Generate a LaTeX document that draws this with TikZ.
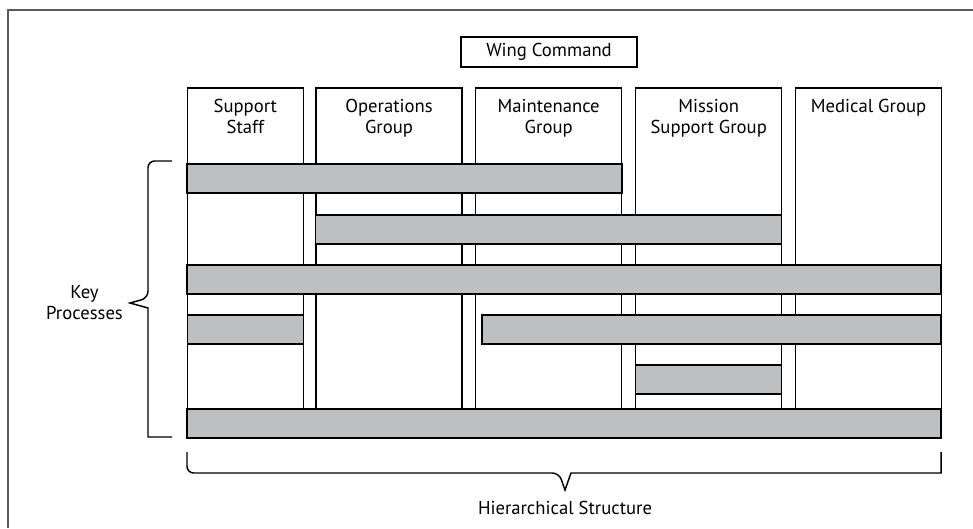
\documentclass[tikz,border=0pt]{standalone}
\usepackage{fontspec}
\setmainfont{PT Sans}

\definecolor{barfill}{RGB}{190,191,193}
\definecolor{framegray}{RGB}{90,90,90}
\tikzset{every picture/.style={line width=1.1pt}}
\tikzset{
  colbox/.style={draw, minimum height=240.75pt, minimum width=#1, inner sep=0pt},
  procbar/.style={draw, fill=barfill, minimum height=21.75pt, minimum width=#1, inner sep=0pt},
  head/.style={anchor=north, align=center, inner sep=0pt, font=\fontsize{14}{15.75}\selectfont},
  txt/.style={align=center, inner sep=0pt, font=\fontsize{14}{15.75}\selectfont},
}

\begin{document}
\begin{tikzpicture}[x=0.75pt,y=0.75pt,yscale=-1,xscale=1]
\useasboundingbox (0,0) rectangle (973,528);

%Frame
\draw [line width=0.8pt, framegray] (973,10) -- (8,10) -- (8,528) ;

% Command box
\node [draw, minimum width=132pt, minimum height=22.5pt, txt] (wing) at (549,52) {Wing Command};

% Group columns
\node [colbox=87pt] (staff) at (245.3,248.5) {};
\node [colbox=109.5pt] (ops) at (389,248.5) {};
\node [colbox=109.5pt] (mx) at (548.7,248.5) {};
\node [colbox=109.5pt] (msg) at (708.7,248.5) {};
\node [colbox=109.5pt] (med) at (868.5,248.5) {};

% Column heads
\node [head] (staff-t) at ([yshift=8.5pt]staff.north) {Support\\Staff};
\node [head] (ops-t) at ([yshift=8.5pt]ops.north) {Operations\\Group};
\node [head] (mx-t) at ([yshift=8.5pt]mx.north) {Maintenance\\Group};
\node [head] (msg-t) at ([yshift=8.5pt]msg.north) {Mission\\Support Group};
\node [head] (med-t) at ([yshift=8.5pt]med.north) {Medical Group};

% Process bars
\node [procbar=326pt] (p1) at (404.5,178.5) {};
\node [procbar=349.5pt] (p2) at (548.7,229.5) {};
\node [procbar=565.5pt] (p3) at (564.2,279.5) {};
\node [procbar=87pt] (p4a) at (245.3,329.5) {};
\node [procbar=344.25pt] (p4b) at (711.5,329.5) {};
\node [procbar=109.5pt] (p5) at (708.7,379.5) {};
\node [procbar=565.5pt] (p6) at (564.2,423.5) {};

% Brace: key processes
\draw (172,161) [rounded corners=5pt] -- (148,161) -- (148,298) [sharp corners] -- (130,303) -- (148,308) -- (148,437) [rounded corners=5pt] -- (172,437) ;
% Brace: hierarchical structure
\draw (187,452) [rounded corners=5pt] -- (187,473) -- (559,473) [sharp corners] -- (565,490) -- (571,473) -- (941,473) [rounded corners=5pt] -- (941,452) ;

% Text Node
\node [txt] (keyproc) at (84.5,303) {Key\\Processes};
% Text Node
\node [txt] (hier) at (565,508) {Hierarchical Structure};

\end{tikzpicture}
\end{document}
